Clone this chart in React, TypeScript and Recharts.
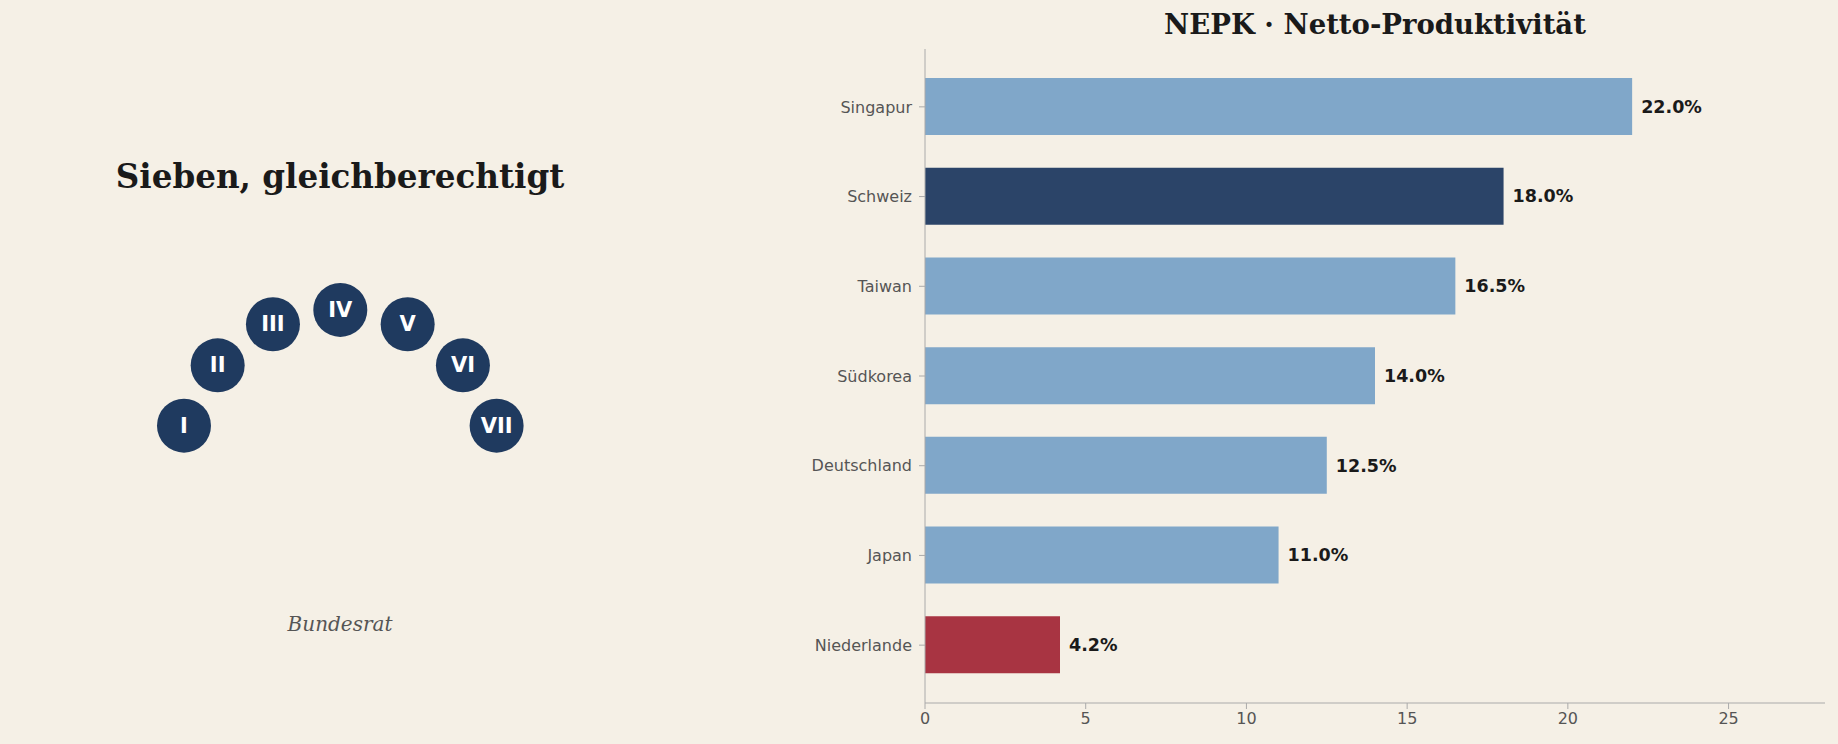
import React from "react";
import {
  BarChart,
  Bar,
  XAxis,
  YAxis,
  Cell,
  LabelList,
  ScatterChart,
  Scatter,
} from "recharts";

// NEPK per country, in percent
const countries = ["Singapur", "Schweiz", "Taiwan", "Südkorea", "Deutschland", "Japan", "Niederlande"];
const nepk = [22.0, 18.0, 16.5, 14.0, 12.5, 11.0, 4.2];
const xTicks = [0, 5, 10, 15, 20, 25];

// seven seats on a unit arc (x right, y up)
const seatLabels = ["I", "II", "III", "IV", "V", "VI", "VII"];
const seatX = [-0.956, -0.75, -0.412, 0, 0.412, 0.75, 0.956];
const seatY = [0.292, 0.661, 0.912, 1.0, 0.912, 0.661, 0.292];

const BG = "#F5F0E6";
const LIGHT = "#80A7C9";
const DARK = "#2B4468";
const RED = "#A83442";
const SEAT = "#1F3A5F";
const SANS = "'DejaVu Sans', sans-serif";
const SERIF = "'DejaVu Serif', serif";

const barData = countries.map((name, i) => ({ name, value: nepk[i] }));
const seatData = seatLabels.map((label, i) => ({ label, x: seatX[i], y: seatY[i] }));

const barColor = (name: string) => {
  if (name === "Schweiz") return DARK;
  if (name === "Niederlande") return RED;
  return LIGHT;
};

const SeatShape = (props: any) => {
  const { cx, cy, payload } = props;
  return (
    <g>
      <circle cx={cx} cy={cy} r={27} fill={SEAT} />
      <text
        x={cx}
        y={cy}
        textAnchor="middle"
        dominantBaseline="central"
        fill="#fff"
        fontFamily={SANS}
        fontWeight="bold"
        fontSize={21}
      >
        {payload.label}
      </text>
    </g>
  );
};

export default function App() {
  return (
    <div
      style={{
        position: "absolute",
        left: 0,
        top: 0,
        width: 1838,
        height: 744,
        background: BG,
        overflow: "hidden",
      }}
    >
      {/* left panel */}
      <div
        style={{
          position: "absolute",
          left: 0,
          width: 680,
          top: 157,
          textAlign: "center",
          fontFamily: SERIF,
          fontWeight: "bold",
          fontSize: 32.6,
          color: "#1a1a1a",
        }}
      >
        Sieben, gleichberechtigt
      </div>
      <div style={{ position: "absolute", left: 0, top: 0 }}>
        <ScatterChart
          width={680}
          height={744}
          margin={{ top: 64.65, left: 13.3, right: 12.7, bottom: 25.35 }}
        >
          <XAxis type="number" dataKey="x" domain={[-2, 2]} hide />
          <YAxis type="number" dataKey="y" domain={[-1.5, 2.5]} hide />
          <Scatter data={seatData} shape={SeatShape} isAnimationActive={false} />
        </ScatterChart>
      </div>
      <div
        style={{
          position: "absolute",
          left: 0,
          width: 680,
          top: 612,
          textAlign: "center",
          fontFamily: SERIF,
          fontStyle: "italic",
          fontSize: 20,
          color: "#555",
        }}
      >
        Bundesrat
      </div>

      {/* right panel */}
      <div
        style={{
          position: "absolute",
          left: 925,
          width: 900,
          top: 8,
          textAlign: "center",
          fontFamily: SERIF,
          fontWeight: "bold",
          fontSize: 27.5,
          color: "#1a1a1a",
        }}
      >
        NEPK · Netto-Produktivität
      </div>
      <div style={{ position: "absolute", left: 700, top: 0 }}>
        <BarChart
          width={1138}
          height={744}
          data={barData}
          layout="vertical"
          margin={{ top: 49, right: 13, bottom: 0, left: 0 }}
          style={{ fontFamily: SANS }}
        >
          <XAxis
            type="number"
            domain={[0, 28]}
            ticks={xTicks}
            height={41}
            tickSize={6}
            tickMargin={4}
            stroke="#aaa"
            tick={{ fill: "#555", fontSize: 16 }}
          />
          <YAxis
            type="category"
            dataKey="name"
            width={225}
            tickSize={6}
            tickMargin={7}
            padding={{ top: 13, bottom: 13 }}
            stroke="#aaa"
            tick={{ fill: "#555", fontSize: 16 }}
          />
          <Bar dataKey="value" barSize={57} isAnimationActive={false}>
            {barData.map((d) => (
              <Cell key={d.name} fill={barColor(d.name)} />
            ))}
            <LabelList
              dataKey="value"
              position="right"
              offset={9}
              formatter={(v: any) => `${Number(v).toFixed(1)}%`}
              fill="#1a1a1a"
              fontWeight="bold"
              fontSize={17.5}
            />
          </Bar>
        </BarChart>
      </div>
    </div>
  );
}
